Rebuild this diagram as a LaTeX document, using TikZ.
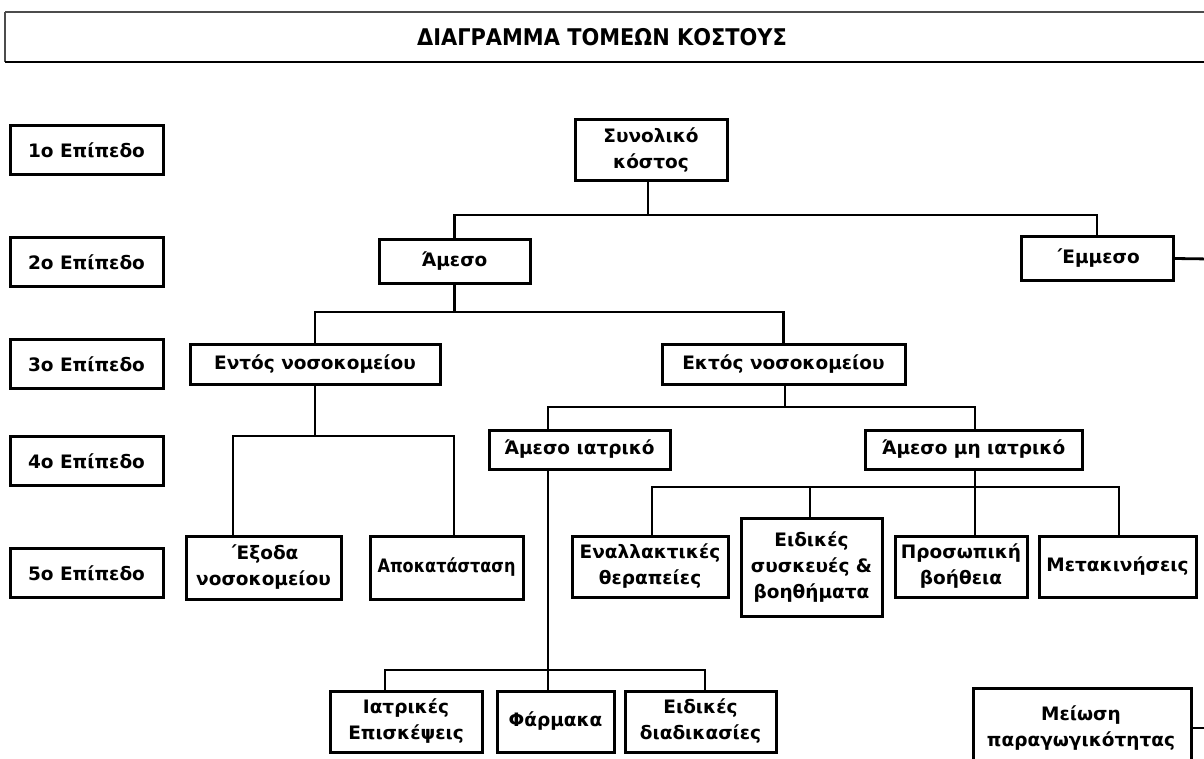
\documentclass[tikz,border=0pt]{standalone}
\usepackage{fontspec}
\usepackage{graphicx}
\setmainfont{DejaVu Sans}
\begin{document}
\begin{tikzpicture}[x=1pt,y=-1pt,
  txt/.style={font=\bfseries\fontsize{18.5}{26}\selectfont,align=center},
  box/.style={txt,draw=black,line width=3pt,fill=white,inner sep=0pt},
  conn/.style={line width=2.8pt,line cap=rect},
  lvl/.style={box,minimum width=153pt,minimum height=49pt}]
\useasboundingbox (0,0) rectangle (1204,759);
\fill[white] (0,0) rectangle (1204,759);
% title
\draw[line width=1.6pt,draw=black!70] (5,12) -- (1210,12);
\draw[line width=1.6pt,draw=black!70] (5,12) -- (5,62);
\draw[line width=2.2pt] (5,62) -- (1210,62);
\node[font=\bfseries\fontsize{23}{26}\selectfont] (title) at (602,37) {\scalebox{0.91}[1]{ΔΙΑΓΡΑΜΜΑ ΤΟΜΕΩΝ ΚΟΣΤΟΥΣ}};
% levels
\node[lvl] (l1) at (86.5,150.5) {1ο Επίπεδο};
\node[lvl] (l2) at (86.5,262) {2ο Επίπεδο};
\node[lvl] (l3) at (86.5,364) {3ο Επίπεδο};
\node[lvl] (l4) at (86.5,461) {4ο Επίπεδο};
\node[lvl] (l5) at (86.5,573) {5ο Επίπεδο};
% level 1
\node[box,minimum width=152pt,minimum height=61pt] (tot) at (651,150.5) {Συνολικό\\κόστος};
% level 2
\node[box,minimum width=151pt,minimum height=43pt] (ameso) at (454.5,261.5) {Άμεσο};
\node[box,minimum width=152pt,minimum height=43pt] (emmeso) at (1097,258.5) {΄Εμμεσο};
\coordinate (emR) at (1210,259);
% level 3
\node[box,minimum width=250pt,minimum height=40pt] (entos) at (315,364) {Εντός νοσοκομείου};
\node[box,minimum width=243pt,minimum height=40pt] (ektos) at (783.5,364) {Εκτός νοσοκομείου};
% level 4
\node[box,minimum width=181pt,minimum height=39pt] (ai) at (579.5,449.5) {Άμεσο ιατρικό};
\node[box,minimum width=217pt,minimum height=39pt] (ami) at (973.5,449.5) {Άμεσο μη ιατρικό};
% level 5
\node[box,minimum width=155pt,minimum height=63pt] (exoda) at (263.5,567.5) {΄Εξοδα\\νοσοκομείου};
\node[box,minimum width=153pt,minimum height=63pt] (apok) at (446.5,567.5) {\scalebox{0.87}[1]{Αποκατάσταση}};
\node[box,minimum width=156pt,minimum height=61pt] (enal) at (650,566.5) {Εναλλακτικές\\θεραπείες};
\node[box,minimum width=141pt,minimum height=98pt] (eid) at (811.5,567) {Ειδικές\\συσκευές \&\\βοηθήματα};
\node[box,minimum width=132pt,minimum height=61pt] (pros) at (961,566.5) {Προσωπική\\βοήθεια};
\node[box,minimum width=157pt,minimum height=61pt] (met) at (1117.5,566.5) {Μετακινήσεις};
% bottom row
\node[box,minimum width=152pt,minimum height=61pt] (iatr) at (406,721.5) {Ιατρικές\\Επισκέψεις};
\node[box,minimum width=117pt,minimum height=61pt] (farm) at (555.5,721.5) {Φάρμακα};
\node[box,minimum width=151pt,minimum height=61pt] (eidd) at (700.5,721.5) {Ειδικές\\διαδικασίες};
\node[box,minimum width=218pt,minimum height=90pt,anchor=north west] (meiosi) at (972,687) {};
\node[txt] (meiositxt) at (1081,728) {Μείωση\\παραγωγικότητας};
\coordinate (meR) at (1210,728);
% junction points
\coordinate (b1) at (648,215);
\coordinate (b2) at (454.5,312);
\coordinate (b3) at (315,436);
\coordinate (b4) at (785,407);
\coordinate (b5) at (975,487);
\coordinate (b6) at (548,670);
% connectors
\draw[conn] (tot.south -| b1) -- (b1);
\draw[conn] (ameso.north) |- (b1) -| (emmeso.north);
\draw[conn] (emmeso.east) -- (emR);
\draw[conn] (ameso.south) -- (b2);
\draw[conn] (entos.north) |- (b2) -| (ektos.north);
\draw[conn] (entos.south) -- (b3);
\draw[conn] (exoda.north -| 233,0) |- (b3) -| (apok.north -| 454,0);
\draw[conn] (ektos.south -| b4) -- (b4);
\draw[conn] (ai.north -| 548,0) |- (b4) -| (ami.north -| b5);
\draw[conn] (ami.south -| b5) -- (b5);
\draw[conn] (enal.north -| 652,0) |- (b5) -| (met.north -| 1119,0);
\draw[conn] (eid.north -| 810,0) -- (b5 -| 810,0);
\draw[conn] (pros.north -| b5) -- (b5);
\draw[conn] (ai.south -| b6) -- (farm.north -| b6);
\draw[conn] (iatr.north -| 385,0) |- (b6) -| (eidd.north -| 705,0);
\draw[conn] (meiosi.east |- meR) -- (meR);
\end{tikzpicture}
\end{document}
